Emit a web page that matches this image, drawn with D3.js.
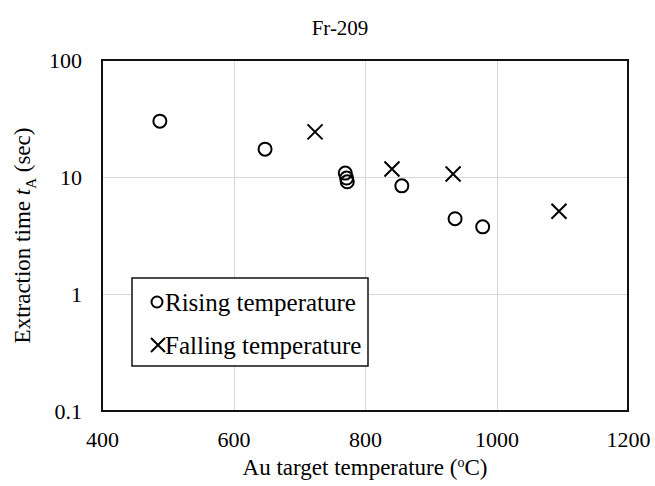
<!DOCTYPE html>
<html lang="en">
	<head>
		<meta charset="utf-8">
		<title>Fr-209 extraction time</title>
		<script type="text/javascript" src="https://d3js.org/d3.v7.min.js"></script>
		<style type="text/css">
			body { margin: 0; background: #fff; }
			text { font-family: "Liberation Serif", "Times New Roman", serif; fill: #000; }
			.axis path, .axis line { display: none; }
			.axis text { font-size: 22px; font-family: "Liberation Serif", "Times New Roman", serif; }
			.grid line { stroke: #d9d9d9; stroke-width: 1; shape-rendering: crispEdges; }
		</style>
	</head>
	<body>
		<div id="chart"></div>
		<script type="text/javascript">

		// data
		var risingTemp = [488, 648, 770, 772, 773, 856, 937, 979]
		var risingTime = [30, 17.3, 10.8, 9.8, 9.1, 8.4, 4.4, 3.75]
		var fallingTemp = [724, 841, 934, 1095]
		var fallingTime = [24.3, 11.7, 10.6, 5.1]
		var xTicks = [400, 600, 800, 1000, 1200]
		var yTicks = [0.1, 1, 10, 100]
		var legendLabels = ["Rising temperature", "Falling temperature"]

		var w = 655
		var h = 486
		// note: "top" is taken by window.top, so use plot* names
		var plotLeft = 102, plotRight = 628, plotTop = 60, plotBottom = 411

		var svg = d3.select("#chart")
			.append("svg")
			.attr("width", w)
			.attr("height", h)

		var xScale = d3.scaleLinear()
			.domain([400, 1200])
			.range([plotLeft, plotRight])

		var yScale = d3.scaleLog()
			.domain([0.1, 100])
			.range([plotBottom, plotTop])

		// gridlines
		var grid = svg.append("g").attr("class", "grid")
		grid.selectAll("line.v")
			.data(xTicks.slice(1, -1))
			.enter().append("line")
			.attr("class", "v")
			.attr("x1", function(d){ return Math.round(xScale(d)) + 0.5 })
			.attr("x2", function(d){ return Math.round(xScale(d)) + 0.5 })
			.attr("y1", plotTop).attr("y2", plotBottom)
		grid.selectAll("line.h")
			.data(yTicks.slice(1, -1))
			.enter().append("line")
			.attr("class", "h")
			.attr("y1", function(d){ return Math.round(yScale(d)) + 0.5 })
			.attr("y2", function(d){ return Math.round(yScale(d)) + 0.5 })
			.attr("x1", plotLeft).attr("x2", plotRight)

		// plot border
		svg.append("rect")
			.attr("x", plotLeft).attr("y", plotTop)
			.attr("width", plotRight - plotLeft).attr("height", plotBottom - plotTop)
			.attr("fill", "none")
			.attr("stroke", "#111")
			.attr("stroke-width", 2)

		// axes (labels only)
		var xAxis = d3.axisBottom(xScale).tickValues(xTicks).tickSize(0).tickPadding(20).tickFormat(d3.format("d"))
		svg.append("g").attr("class", "axis")
			.attr("transform", "translate(0," + plotBottom + ")")
			.call(xAxis)

		var yAxis = d3.axisLeft(yScale).tickValues(yTicks).tickSize(0).tickPadding(20)
			.tickFormat(function(d){ return d < 1 ? "0.1" : d3.format("d")(d) })
		svg.append("g").attr("class", "axis")
			.attr("transform", "translate(" + plotLeft + ",0)")
			.call(yAxis)

		function crossPath(cx, cy, s) {
			return "M" + (cx - s) + "," + (cy - s) + "L" + (cx + s) + "," + (cy + s) +
				"M" + (cx - s) + "," + (cy + s) + "L" + (cx + s) + "," + (cy - s)
		}

		// rising: circles
		svg.selectAll("circle.rise")
			.data(risingTemp)
			.enter().append("circle")
			.attr("class", "rise")
			.attr("cx", function(d){ return xScale(d) })
			.attr("cy", function(d, i){ return yScale(risingTime[i]) })
			.attr("r", 6.5)
			.attr("fill", "none")
			.attr("stroke", "#000")
			.attr("stroke-width", 2)

		// falling: crosses
		svg.selectAll("path.fall")
			.data(fallingTemp)
			.enter().append("path")
			.attr("class", "fall")
			.attr("d", function(d, i){ return crossPath(xScale(d), yScale(fallingTime[i]), 7.5) })
			.attr("fill", "none")
			.attr("stroke", "#000")
			.attr("stroke-width", 2)

		// legend
		var lg = svg.append("g")
		lg.append("rect")
			.attr("x", 132).attr("y", 278)
			.attr("width", 236).attr("height", 88)
			.attr("fill", "#fff")
			.attr("stroke", "#111")
			.attr("stroke-width", 1.5)
		lg.append("circle")
			.attr("cx", 157).attr("cy", 302).attr("r", 5.5)
			.attr("fill", "none").attr("stroke", "#000").attr("stroke-width", 2)
		lg.append("path")
			.attr("d", crossPath(158, 345, 7))
			.attr("stroke", "#000").attr("stroke-width", 2)
		lg.selectAll("text")
			.data(legendLabels)
			.enter().append("text")
			.attr("x", 165)
			.attr("y", function(d, i){ return 302 + i * 43 })
			.attr("dy", "0.35em")
			.style("font-size", "25px")
			.text(function(d){ return d })

		// title
		svg.append("text")
			.attr("x", 340).attr("y", 35)
			.attr("text-anchor", "middle")
			.style("font-size", "21px")
			.text("Fr-209")

		// x label
		var xl = svg.append("text")
			.attr("x", (plotLeft + plotRight) / 2).attr("y", 475)
			.attr("text-anchor", "middle")
			.style("font-size", "23px")
		xl.append("tspan").text("Au target temperature (")
		xl.append("tspan").attr("dy", -8).style("font-size", "14px").text("o")
		xl.append("tspan").attr("dy", 8).text("C)")

		// y label
		var yl = svg.append("text")
			.attr("transform", "translate(30," + (plotTop + plotBottom) / 2 + ") rotate(-90)")
			.attr("text-anchor", "middle")
			.style("font-size", "23px")
		yl.append("tspan").text("Extraction time ")
		yl.append("tspan").style("font-style", "italic").text("t")
		yl.append("tspan").attr("dy", 6).style("font-size", "15px").text("A")
		yl.append("tspan").attr("dy", -6).text(" (sec)")

		</script>
	</body>
</html>
